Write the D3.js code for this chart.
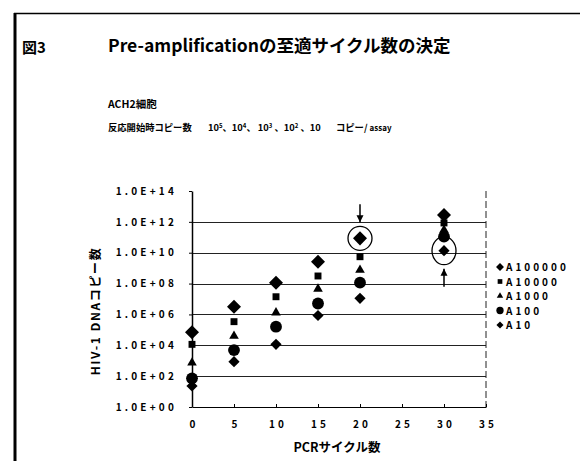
<!DOCTYPE html>
<html>
<head>
<meta charset="utf-8">
<script src="https://cdn.jsdelivr.net/npm/d3@7"></script>
<style>
  html, body { margin: 0; padding: 0; background: #fff; }
  svg { display: block; }
  text { font-family: "Noto Sans CJK JP", "DejaVu Sans", sans-serif; font-weight: bold; fill: #000; }
</style>
</head>
<body>
<svg id="chart" width="580" height="461"></svg>
<script>
// PCR cycle counts (x) and HIV-1 DNA copies per series
const cycles = [0, 5, 10, 15, 20, 30];
const seriesNames = ["A100000", "A10000", "A1000", "A100", "A10"];
const A100000 = [6.9e4, 3.2e6, 1.15e8, 2.6e9, 8.5e10, 2.75e12];
const A10000  = [1.15e4, 3.4e5, 1.4e7, 3.1e8, 5.5e9, 8.5e11];
const A1000   = [7.4e2, 4.0e4, 1.3e6, 4.5e7, 7.6e8, 3.0e11];
const A100    = [72, 4.9e3, 1.6e5, 5.1e6, 1.15e8, 1.1e11];
const A10     = [23, 8.7e2, 1.15e4, 8.5e5, 1.1e7, 1.35e10];
const xTicks = [0, 5, 10, 15, 20, 25, 30, 35];
const yTicks = [1, 1e2, 1e4, 1e6, 1e8, 1e10, 1e12, 1e14];
// highlighted points: [series, cycle]
const highlights = [["A100000", 20], ["A10", 30]];

const seriesValues = { A100000, A10000, A1000, A100, A10 };
const seriesShape = {
  A100000: { type: d3.symbolDiamond2, size: 125, legend: 40 },
  A10000:  { type: d3.symbolSquare,   size: 48,  legend: 22 },
  A1000:   { type: d3.symbolTriangle, size: 40,  legend: 18 },
  A100:    { type: d3.symbolCircle,   size: 110, legend: 42 },
  A10:     { type: d3.symbolDiamond2, size: 80,  legend: 32 }
};

const svg = d3.select("#chart");

// page frame
svg.append("line").attr("x1", 15).attr("x2", 15).attr("y1", 13).attr("y2", 461)
  .attr("stroke", "#000").attr("stroke-width", 3);
svg.append("line").attr("x1", 14).attr("x2", 580).attr("y1", 13.5).attr("y2", 13.5)
  .attr("stroke", "#000").attr("stroke-width", 1.5);

// headings
svg.append("text").attr("x", 22).attr("y", 53).attr("font-size", 15).text("図3");
svg.append("text").attr("x", 108).attr("y", 52).attr("font-size", 17.5)
  .text("Pre-amplificationの至適サイクル数の決定");
svg.append("text").attr("x", 108).attr("y", 108).attr("font-size", 10.5).text("ACH2細胞");

const subY = 131;
svg.append("text").attr("x", 108).attr("y", subY).attr("font-size", 9.3).text("反応開始時コピー数");
const nums = svg.append("text").attr("x", 208).attr("y", subY).attr("font-size", 9.3);
[["10", "5", "、"], ["10", "4", "、 "], ["10", "3", " 、"], ["10", "2", " 、"]].forEach(([b, e, sep]) => {
  nums.append("tspan").text(b);
  nums.append("tspan").attr("dy", -3).attr("font-size", 6).text(e);
  nums.append("tspan").attr("dy", 3).text(sep);
});
nums.append("tspan").text("10");
const unit = svg.append("text").attr("x", 336).attr("y", subY).attr("font-size", 9.3);
unit.append("tspan").text("コピー/ ");
unit.append("tspan").attr("font-size", 8).text("assay");

// scales
const x = d3.scaleLinear().domain([0, 35]).range([192, 486]);
const y = d3.scaleLog().domain([1, 1e14]).range([407, 191]);

// horizontal grid lines
svg.append("g").selectAll("line").data(yTicks.filter(v => v > 1 && v < 1e14)).join("line")
  .attr("x1", x(0)).attr("x2", x(35))
  .attr("y1", d => Math.round(y(d)) + 0.5).attr("y2", d => Math.round(y(d)) + 0.5)
  .attr("stroke", "#222").attr("stroke-width", 1.2);

// right border of plot (broken)
svg.append("line").attr("x1", x(35)).attr("x2", x(35)).attr("y1", y(1e14)).attr("y2", y(1))
  .attr("stroke", "#222").attr("stroke-width", 1).attr("stroke-dasharray", "7,3");

// y axis
const fmt = d => "1.0E+" + String(Math.round(Math.log10(d))).padStart(2, "0");
const yAxis = svg.append("g").attr("transform", `translate(${x(0)},0)`)
  .call(d3.axisLeft(y).tickValues(yTicks).tickFormat(fmt).tickSize(3).tickSizeOuter(0).tickPadding(12));
yAxis.select(".domain").attr("stroke", "#000").attr("stroke-width", 1.5);
yAxis.selectAll("text").attr("font-size", 10).attr("letter-spacing", 3.2)
  .attr("font-family", "'DejaVu Sans', sans-serif").attr("font-weight", "bold").attr("fill", "#000");

// x axis
const xAxis = svg.append("g").attr("transform", `translate(0,${y(1)})`)
  .call(d3.axisBottom(x).tickValues(xTicks).tickFormat(d3.format("d")).tickSize(-3).tickSizeOuter(0).tickPadding(14));
xAxis.select(".domain").attr("stroke", "#000").attr("stroke-width", 1.2);
xAxis.selectAll("text").attr("font-size", 10).attr("letter-spacing", 3)
  .attr("font-family", "'DejaVu Sans', sans-serif").attr("font-weight", "bold").attr("fill", "#000")
  .attr("dx", 1.5);

// axis titles
svg.append("text").attr("x", 337).attr("y", 452).attr("text-anchor", "middle")
  .attr("font-size", 12.5).text("PCRサイクル数");
svg.append("text").attr("transform", "translate(100,311) rotate(-90)").attr("text-anchor", "middle")
  .attr("font-size", 12).attr("letter-spacing", 1.6).text("HIV-1 DNAコピー数");

// data markers
const pts = svg.append("g");
seriesNames.forEach(name => {
  const sh = seriesShape[name];
  pts.selectAll(null).data(cycles.map((c, i) => ({ c, v: seriesValues[name][i] }))).join("path")
    .attr("transform", d => `translate(${x(d.c)},${y(d.v)})`)
    .attr("d", d3.symbol().type(sh.type).size(sh.size))
    .attr("fill", "#000");
});

// rings and arrows around highlighted points
highlights.forEach(([name, c], k) => {
  const v = seriesValues[name][cycles.indexOf(c)];
  const cx = x(c), cy = y(v);
  const r = k === 0 ? 12 : 14;
  svg.append("ellipse").attr("cx", cx).attr("cy", cy).attr("rx", 12).attr("ry", r)
    .attr("fill", "none").attr("stroke", "#000").attr("stroke-width", 1.3);
  const dir = k === 0 ? -1 : 1;            // arrow from above or from below
  const tip = cy + dir * (r + 4);
  const tail = cy + dir * (r + 22);
  svg.append("line").attr("x1", cx).attr("x2", cx).attr("y1", tail).attr("y2", tip)
    .attr("stroke", "#000").attr("stroke-width", 1.5);
  svg.append("path")
    .attr("d", `M${cx},${tip} L${cx - 3.5},${tip + dir * 7} L${cx + 3.5},${tip + dir * 7} Z`)
    .attr("fill", "#000");
});

// legend
const lg = svg.append("g");
seriesNames.forEach((name, i) => {
  const ly = 267 + i * 14.5;
  const sh = seriesShape[name];
  lg.append("path").attr("transform", `translate(500,${ly})`)
    .attr("d", d3.symbol().type(sh.type).size(sh.legend)).attr("fill", "#000");
  lg.append("text").attr("x", 506).attr("y", ly + 4).attr("font-size", 10)
    .attr("letter-spacing", 3).attr("font-family", "'DejaVu Sans', sans-serif").text(name);
});
</script>
</body>
</html>
